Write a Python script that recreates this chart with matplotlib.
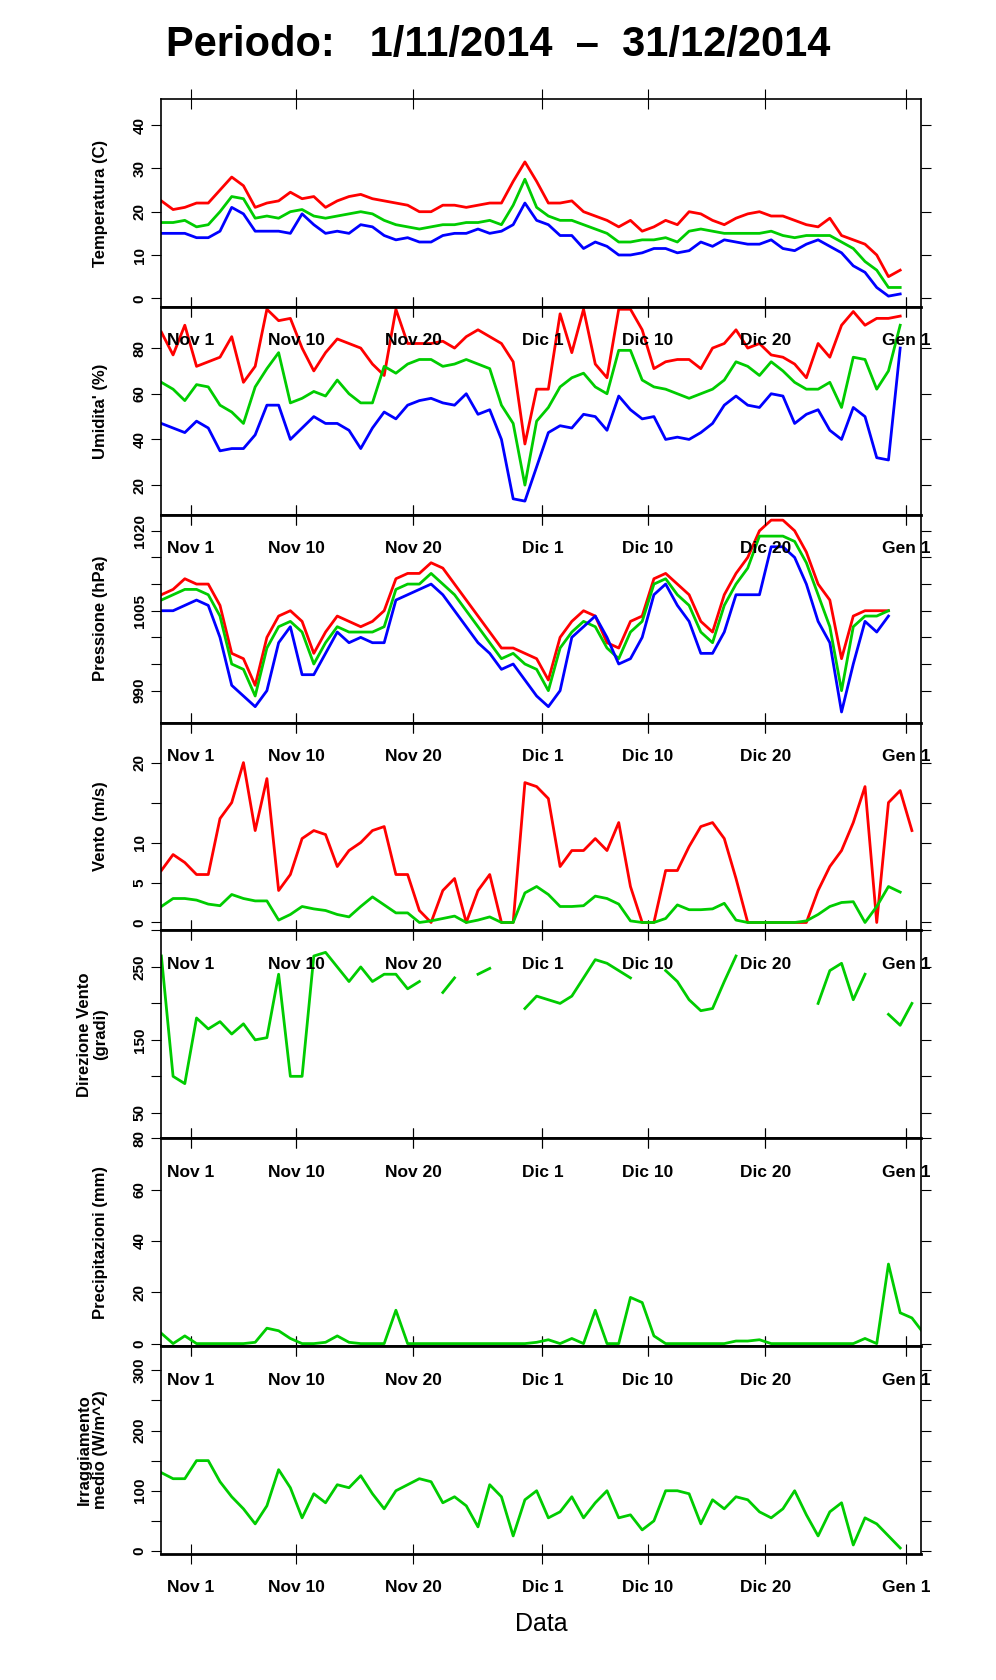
import matplotlib.pyplot as plt
import numpy as np

plt.rcParams['font.family'] = ['Liberation Sans', 'DejaVu Sans']

# days from Nov 1 (0) ; first sample ~2.5 days before
start_day = -2.5
tick_days = [0, 9, 19, 30, 39, 49, 61]
tick_labels = ["Nov 1", "Nov 10", "Nov 20", "Dic 1", "Dic 10", "Dic 20", "Gen 1"]

temp_max = [22.5, 20.5, 21, 22, 22, 25, 28, 26, 21, 22, 22.5, 24.5, 23, 23.5, 21, 22.5, 23.5, 24, 23, 22.5, 22, 21.5, 20, 20, 21.5, 21.5, 21, 21.5, 22, 22, 27, 31.5, 27, 22, 22, 22.5, 20, 19, 18, 16.5, 18, 15.5, 16.5, 18, 17, 20, 19.5, 18, 17, 18.5, 19.5, 20, 19, 19, 18, 17, 16.5, 18.5, 14.5, 13.5, 12.5, 10, 5, 6.5]
temp_med = [17.5, 17.5, 18, 16.5, 17, 20, 23.5, 23, 18.5, 19, 18.5, 20, 20.5, 19, 18.5, 19, 19.5, 20, 19.5, 18, 17, 16.5, 16, 16.5, 17, 17, 17.5, 17.5, 18, 17, 21.5, 27.5, 21, 19, 18, 18, 17, 16, 15, 13, 13, 13.5, 13.5, 14, 13, 15.5, 16, 15.5, 15, 15, 15, 15, 15.5, 14.5, 14, 14.5, 14.5, 14.5, 13, 11.5, 8.5, 6.5, 2.5, 2.5]
temp_min = [15, 15, 15, 14, 14, 15.5, 21, 19.5, 15.5, 15.5, 15.5, 15, 19.5, 17, 15, 15.5, 15, 17, 16.5, 14.5, 13.5, 14, 13, 13, 14.5, 15, 15, 16, 15, 15.5, 17, 22, 18, 17, 14.5, 14.5, 11.5, 13, 12, 10, 10, 10.5, 11.5, 11.5, 10.5, 11, 13, 12, 13.5, 13, 12.5, 12.5, 13.5, 11.5, 11, 12.5, 13.5, 12, 10.5, 7.5, 6, 2.5, 0.5, 1]

hum_max = [87, 77, 90, 72, 74, 76, 85, 65, 72, 97, 92, 93, 80, 70, 78, 84, 82, 80, 73, 68, 97, 82, 82, 82, 83, 80, 85, 88, 85, 82, 74, 38, 62, 62, 95, 78, 97, 73, 67, 97, 97, 88, 71, 74, 75, 75, 71, 80, 82, 88, 80, 82, 77, 76, 73, 67, 82, 76, 90, 96, 90, 93, 93, 94]
hum_med = [65, 62, 57, 64, 63, 55, 52, 47, 63, 71, 78, 56, 58, 61, 59, 66, 60, 56, 56, 72, 69, 73, 75, 75, 72, 73, 75, 73, 71, 55, 47, 20, 48, 54, 63, 67, 69, 63, 60, 79, 79, 66, 63, 62, 60, 58, 60, 62, 66, 74, 72, 68, 74, 70, 65, 62, 62, 65, 54, 76, 75, 62, 70, 90]
hum_min = [47, 45, 43, 48, 45, 35, 36, 36, 42, 55, 55, 40, 45, 50, 47, 47, 44, 36, 45, 52, 49, 55, 57, 58, 56, 55, 60, 51, 53, 40, 14, 13, 28, 43, 46, 45, 51, 50, 44, 59, 53, 49, 50, 40, 41, 40, 43, 47, 55, 59, 55, 54, 60, 59, 47, 51, 53, 44, 40, 54, 50, 32, 31, 80]

pres_max = [1008, 1009, 1011, 1010, 1010, 1006, 997, 996, 991, 1000, 1004, 1005, 1003, 997, 1001, 1004, 1003, 1002, 1003, 1005, 1011, 1012, 1012, 1014, 1013, 1010, 1007, 1004, 1001, 998, 998, 997, 996, 992, 1000, 1003, 1005, 1004, 999, 998, 1003, 1004, 1011, 1012, 1010, 1008, 1003, 1001, 1008, 1012, 1015, 1020, 1022, 1022, 1020, 1016, 1010, 1007, 996, 1004, 1005, 1005, 1005]
pres_med = [1007, 1008, 1009, 1009, 1008, 1004, 995, 994, 989, 998, 1002, 1003, 1001, 995, 999, 1002, 1001, 1001, 1001, 1002, 1009, 1010, 1010, 1012, 1010, 1008, 1005, 1002, 999, 996, 997, 995, 994, 990, 998, 1001, 1003, 1002, 998, 996, 1001, 1003, 1010, 1011, 1008, 1006, 1001, 999, 1006, 1010, 1013, 1019, 1019, 1019, 1018, 1014, 1008, 1002, 990, 1002, 1004, 1004, 1005]
pres_min = [1005, 1005, 1006, 1007, 1006, 1000, 991, 989, 987, 990, 999, 1002, 993, 993, 997, 1001, 999, 1000, 999, 999, 1007, 1008, 1009, 1010, 1008, 1005, 1002, 999, 997, 994, 995, 992, 989, 987, 990, 1000, 1002, 1004, 1000, 995, 996, 1000, 1008, 1010, 1006, 1003, 997, 997, 1001, 1008, 1008, 1008, 1017, 1017, 1015, 1010, 1003, 999, 986, 995, 1003, 1001, 1004]

wind_max = [6.5, 8.5, 7.5, 6, 6, 13, 15, 20, 11.5, 18, 4, 6, 10.5, 11.5, 11, 7, 9, 10, 11.5, 12, 6, 6, 1.5, 0, 4, 5.5, 0, 4, 6, 0, 0, 17.5, 17, 15.5, 7, 9, 9, 10.5, 9, 12.5, 4.5, 0, 0, 6.5, 6.5, 9.5, 12, 12.5, 10.5, 5.5, 0, 0, 0, 0, 0, 0, 4, 7, 9, 12.5, 17, 0, 15, 16.5, 11.5]
wind_med = [2, 3, 3, 2.8, 2.3, 2.1, 3.5, 3, 2.7, 2.7, 0.3, 1, 2, 1.7, 1.5, 1, 0.7, 2, 3.2, 2.2, 1.2, 1.2, 0, 0.2, 0.5, 0.8, 0, 0.3, 0.7, 0, 0, 3.7, 4.5, 3.5, 2, 2, 2.1, 3.3, 3, 2.3, 0.2, 0, 0, 0.5, 2.2, 1.6, 1.6, 1.7, 2.4, 0.3, 0, 0, 0, 0, 0, 0.2, 1, 2, 2.5, 2.6, 0, 2, 4.5, 3.8]

nan = np.nan
wind_dir = [265, 100, 90, 180, 165, 175, 158, 172, 150, 153, 240, 100, 100, 265, 270, 250, 230, 250, 230, 240, 240, 220, 230, nan, 215, 235, nan, 240, 248, nan, nan, 193, 210, 205, 200, 210, 235, 260, 255, 245, 235, nan, nan, 245, 230, 205, 190, 193, 230, 265, nan, nan, nan, nan, nan, nan, 200, 245, 255, 205, 240, nan, 185, 170, 200]

rain = [4, 0, 3, 0, 0, 0, 0, 0, 0.5, 6, 5, 2, 0, 0, 0.5, 3, 0.5, 0, 0, 0, 13, 0, 0, 0, 0, 0, 0, 0, 0, 0, 0, 0, 0.5, 1.5, 0, 2, 0, 13, 0, 0, 18, 16, 3, 0, 0, 0, 0, 0, 0, 1, 1, 1.5, 0, 0, 0, 0, 0, 0, 0, 0, 2, 0, 31, 12, 10, 4, 9]

irr = [130, 120, 120, 150, 150, 115, 90, 70, 45, 75, 135, 105, 55, 95, 80, 110, 105, 125, 95, 70, 100, 110, 120, 115, 80, 90, 75, 40, 110, 90, 25, 85, 100, 55, 65, 90, 55, 80, 100, 55, 60, 35, 50, 100, 100, 95, 45, 85, 70, 90, 85, 65, 55, 70, 100, 60, 25, 65, 80, 10, 55, 45, 25, 5]


def xs(vals):
    return start_day + np.arange(len(vals))


fig = plt.figure(figsize=(9.96, 16.8), dpi=100)
left, right = 0.162, 0.925
top, bottom = 0.941, 0.075
h = (top - bottom) / 7

panels = [
    ("Temperatura (C)", [(temp_max, 'red'), (temp_med, '#00cc00'), (temp_min, 'blue')], (-2, 46), [0, 10, 20, 30, 40], [0, 10, 20, 30, 40]),
    ("Umidita' (%)", [(hum_max, 'red'), (hum_med, '#00cc00'), (hum_min, 'blue')], (7, 98), [20, 40, 60, 80], [20, 40, 60, 80]),
    ("Pressione (hPa)", [(pres_max, 'red'), (pres_med, '#00cc00'), (pres_min, 'blue')], (984, 1023), [990, 995, 1000, 1005, 1010, 1015, 1020], [990, 1005, 1020]),
    ("Vento (m/s)", [(wind_max, 'red'), (wind_med, '#00cc00')], (-1, 25), [0, 5, 10, 15, 20], [0, 5, 10, 20]),
    ("Direzione Vento\n(gradi)", [(wind_dir, '#00cc00')], (15, 300), [50, 100, 150, 200, 250, 300], [50, 150, 250]),
    ("Precipitazioni (mm)", [(rain, '#00cc00')], (-1, 80), [0, 20, 40, 60, 80], [0, 20, 40, 60, 80]),
    ("Irraggiamento\nmedio (W/m^2)", [(irr, '#00cc00')], (-5, 340), [0, 50, 100, 150, 200, 250, 300], [0, 100, 200, 300]),
]

for k, (label, series, ylim, yt, ytl) in enumerate(panels):
    ax = fig.add_axes([left, top - (k + 1) * h, right - left, h])
    ax.patch.set_visible(False)
    ax.set_zorder(10 - k)
    for vals, c in series:
        ax.plot(xs(vals), vals, color=c, lw=2)
    ax.set_xlim(-2.5, 62.3)
    ax.set_ylim(*ylim)
    ax.set_yticks(yt)
    ax.set_yticklabels([str(v) if v in ytl else "" for v in yt], rotation=90, va='center',
                       fontsize=11, fontweight='bold')
    ax.set_ylabel(label, fontsize=12, fontweight='bold', linespacing=1.1)
    ax.set_xticks(tick_days)
    ax.set_xticklabels(tick_labels, fontsize=12.5, fontweight='bold')
    ax.tick_params(axis='x', direction='inout', length=14, top=True, pad=12)
    ax.tick_params(axis='y', direction='out', length=7, right=True)
    for s in ax.spines.values():
        s.set_linewidth(1.2)
    ax.spines['bottom'].set_linewidth(2)
    if k == 6:
        ax.set_xlabel("Data", fontsize=18, labelpad=12)
    ax.yaxis.set_label_coords(-0.07, 0.5)

fig.suptitle("Periodo:   1/11/2014  \u2013  31/12/2014", fontsize=30, fontweight='bold', y=0.985)
fig.savefig("out.png", dpi=100)
